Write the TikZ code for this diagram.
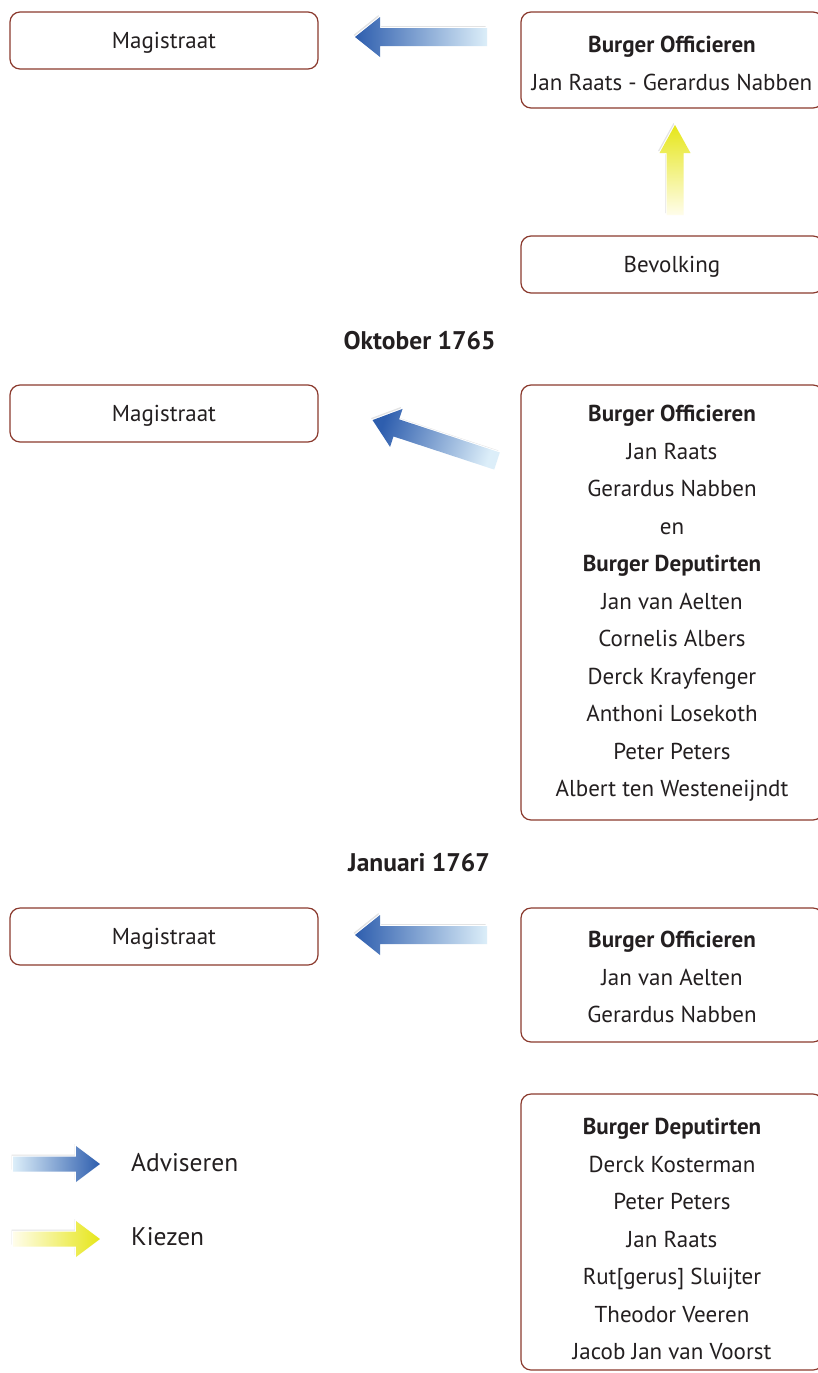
\documentclass[tikz,border=0pt]{standalone}
\usepackage{fontspec}
\setmainfont{PT Sans}
\usetikzlibrary{calc}
\definecolor{bord}{HTML}{8B3A2E}
\definecolor{ink}{HTML}{231F20}
\definecolor{bdark}{HTML}{2E5EAE}
\definecolor{blight}{HTML}{DCEEF9}
\definecolor{ydark}{HTML}{E6E619}
\definecolor{ylight}{HTML}{FFFDEB}
\newcommand\arrowpath[4]{(0,-#4) -- ({#1-#2},-#4) -- ({#1-#2},-#3) -- (#1,0) -- ({#1-#2},#3) -- ({#1-#2},#4) -- (0,#4) -- cycle}
\newcommand\barrow[8]{%
  \begin{scope}[shift={(#1-1.5,#2-2)},rotate=#3]
    \fill[gray!22] \arrowpath{#4}{#5}{#6}{#7};
  \end{scope}
  \begin{scope}[shift={(#1,#2)},rotate=#3]
    \draw[white,line width=2pt] \arrowpath{#4}{#5}{#6}{#7};
    \shade[#8] \arrowpath{#4}{#5}{#6}{#7};
  \end{scope}}
\begin{document}
\begin{tikzpicture}[x=1pt,y=-1pt,
  box/.style={draw=bord, line width=1.2pt, rounded corners=10pt, fill=white, inner sep=0pt},
  txt/.style={text=ink, font=\fontsize{23}{37.5}\selectfont, align=center, inner sep=0pt},
  ttl/.style={text=ink, font=\fontsize{25.5}{30}\selectfont\bfseries, inner sep=0pt},
  leg/.style={text=ink, font=\fontsize{25.5}{30}\selectfont, anchor=west, inner sep=0pt}]
\useasboundingbox (0,0) rectangle (817,1373);

% --- section 1
\node[box, minimum width=308, minimum height=57] (m1) at (164,40.5) {};
\node[txt] (m1t) at (164,43) {Magistraat};
\node[box, minimum width=302, minimum height=96] (r1) at (672,60) {};
\node[txt] (r1t) at (672,63.5) {\textbf{Burger Officieren}\\Jan Raats - Gerardus Nabben};
\node[box, minimum width=302, minimum height=57] (bev) at (672,264.5) {};
\node[txt] (bevt) at (672,267) {Bevolking};
\barrow{487}{37}{180}{132}{25}{20}{9}{left color=bdark, right color=blight}
\barrow{675}{215}{90}{90}{28}{15.5}{8.5}{top color=ydark, bottom color=ylight}

% --- section 2
\node[ttl] (t2) at (419.5,341) {Oktober 1765};
\node[box, minimum width=308, minimum height=57] (m2) at (164,413.5) {};
\node[txt] (m2t) at (164,416) {Magistraat};
\node[box, minimum width=302, minimum height=435] (r2) at (672,602.5) {};
\node[txt] (r2t) at (672,603.5) {\textbf{Burger Officieren}\\Jan Raats\\Gerardus Nabben\\en\\\textbf{Burger Deputirten}\\Jan van Aelten\\Cornelis Albers\\Derck Krayfenger\\Anthoni Losekoth\\Peter Peters\\Albert ten Westeneijndt};
\barrow{497}{461}{161.8}{131}{25}{20}{9}{top color=bdark, bottom color=blight, shading angle=71.8}

% --- section 3
\node[ttl] (t3) at (419,863) {Januari 1767};
\node[box, minimum width=308, minimum height=57] (m3) at (164,936.5) {};
\node[txt] (m3t) at (164,939) {Magistraat};
\node[box, minimum width=302, minimum height=134] (r3) at (672,975) {};
\node[txt] (r3t) at (672,977) {\textbf{Burger Officieren}\\Jan van Aelten\\Gerardus Nabben};
\barrow{487}{935}{180}{132}{25}{20}{9}{left color=bdark, right color=blight}

% --- section 4
\node[box, minimum width=302, minimum height=276] (r4) at (672,1232) {};
\node[txt] (r4t) at (672,1239) {\textbf{Burger Deputirten}\\Derck Kosterman\\Peter Peters\\Jan Raats\\Rut[gerus] Sluijter\\Theodor Veeren\\Jacob Jan van Voorst};

% --- legend
\barrow{13}{1164}{0}{87}{24}{18}{7.5}{left color=blight, right color=bdark}
\barrow{13}{1239}{0}{87}{24}{18}{7.5}{left color=ylight, right color=ydark}
\node[leg] (l1) at (131,1163) {Adviseren};
\node[leg] (l2) at (131,1237) {Kiezen};
\end{tikzpicture}
\end{document}
